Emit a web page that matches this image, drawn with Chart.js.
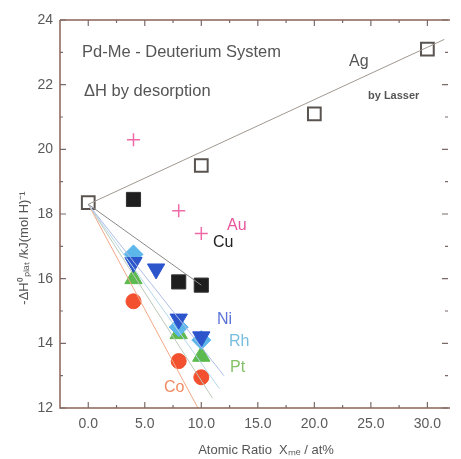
<!DOCTYPE html>
<html>
<head>
<meta charset="utf-8">
<script src="https://cdn.jsdelivr.net/npm/chart.js@4"></script>
<style>
  html, body { margin: 0; padding: 0; background: #fff; }
  #wrap { width: 461px; height: 459px; }
</style>
</head>
<body>
<div id="wrap"><canvas id="myChart" width="461" height="459"></canvas></div>
<script>
// data
const agX = [0, 10, 20, 30];
const agY = [18.35, 19.5, 21.1, 23.1];
const auX = [4, 8, 10];
const auY = [20.3, 18.1, 17.4];
const cuX = [4, 8, 10];
const cuY = [18.45, 15.9, 15.8];
const niX = [4, 6, 8, 10];
const niY = [16.5, 16.3, 14.75, 14.2];
const rhX = [4, 8, 10];
const rhY = [16.75, 14.5, 14.1];
const ptX = [4, 8, 10];
const ptY = [16.0, 14.3, 13.6];
const coX = [4, 8, 10];
const coY = [15.3, 13.45, 12.95];

// guide lines, start and end points
const agLineX = [0, 31.5];
const agLineY = [18.3, 23.4];
const cuLineX = [0, 10];
const cuLineY = [18.3, 15.8];
const niLineX = [0, 12];
const niLineY = [18.3, 13.0];
const rhLineX = [0, 11.6];
const rhLineY = [18.3, 12.6];
const ptLineX = [0, 11];
const ptLineY = [18.3, 12.3];
const coLineX = [0, 9.7];
const coLineY = [18.3, 12.0];

const xTicks = [0, 5, 10, 15, 20, 25, 30];
const yTicks = [12, 14, 16, 18, 20, 22, 24];

const pts = (xs, ys) => xs.map((x, i) => ({ x: x, y: ys[i] }));

const lineSet = (xs, ys, color) => ({
  data: pts(xs, ys),
  showLine: true,
  borderColor: color,
  borderWidth: 1,
  pointRadius: 0,
});

const labels = [
  { text: "Pd-Me - Deuterium System", x: 82, y: 52, color: "#555", font: "16.5px 'Liberation Sans', Arial" },
  { text: "\u0394H by desorption", x: 84, y: 91, color: "#555", font: "16.5px 'Liberation Sans', Arial" },
  { text: "Ag", x: 349, y: 62, color: "#555", font: "16px 'Liberation Sans', Arial" },
  { text: "by Lasser", x: 368, y: 96, color: "#555", font: "bold 11px 'Liberation Sans', Arial" },
  { text: "Au", x: 227, y: 226, color: "#e8559c", font: "16px 'Liberation Sans', Arial" },
  { text: "Cu", x: 213, y: 243, color: "#222", font: "16px 'Liberation Sans', Arial" },
  { text: "Ni", x: 217, y: 320, color: "#5b73d6", font: "16px 'Liberation Sans', Arial" },
  { text: "Rh", x: 229, y: 342, color: "#78bde0", font: "16px 'Liberation Sans', Arial" },
  { text: "Pt", x: 230, y: 368, color: "#84c26a", font: "16px 'Liberation Sans', Arial" },
  { text: "Co", x: 164, y: 388, color: "#f08a60", font: "16px 'Liberation Sans', Arial" },
];

const framePlugin = {
  id: "frame",
  afterDraw(chart) {
    const ctx = chart.ctx;
    const a = chart.chartArea;
    const xs = chart.scales.x;
    const ys = chart.scales.y;
    ctx.save();
    ctx.strokeStyle = "#8b6358";
    ctx.lineWidth = 1.5;
    ctx.beginPath();
    ctx.moveTo(a.left, a.top);
    ctx.lineTo(a.right, a.top);
    ctx.moveTo(a.left, a.top);
    ctx.lineTo(a.left, a.bottom);
    ctx.lineTo(a.right, a.bottom);
    ctx.stroke();

    ctx.lineWidth = 1.2;
    ctx.strokeStyle = "#7a6a66";
    ctx.beginPath();
    for (let v = 0; v <= 32; v += 2.5) {
      const px = xs.getPixelForValue(v);
      const len = v % 5 === 0 ? 6 : 3;
      ctx.moveTo(px, a.bottom);
      ctx.lineTo(px, a.bottom - len);
      ctx.moveTo(px, a.top);
      ctx.lineTo(px, a.top + len);
    }
    for (let v = 12; v <= 24; v += 1) {
      const py = ys.getPixelForValue(v);
      const len = v % 2 === 0 ? 6 : 3;
      ctx.moveTo(a.left, py);
      ctx.lineTo(a.left + len, py);
      ctx.moveTo(a.right - 2, py);
      ctx.lineTo(a.right - 2 - len, py);
    }
    ctx.stroke();

    // texts
    ctx.textBaseline = "middle";
    ctx.textAlign = "left";
    labels.forEach((l) => {
      ctx.font = l.font;
      ctx.fillStyle = l.color;
      ctx.fillText(l.text, l.x, l.y);
    });

    ctx.fillStyle = "#555";
    ctx.font = "13px 'Liberation Sans', Arial";
    ctx.textAlign = "center";
    ctx.fillText("Atomic Ratio  X\u2098\u2091 / at%", 266, 450);

    ctx.font = "13px 'Liberation Sans', Arial";
    ctx.translate(24, 248);
    ctx.rotate(-Math.PI / 2);
    ctx.fillText("-\u0394H\u2070\u209A\u2097\u2090\u209C /kJ(mol H)\u207B\u00B9", 0, 0);
    ctx.restore();
  },
};

const canvas = document.getElementById("myChart");

const chart = new Chart(canvas, {
  type: "scatter",
  data: {
    datasets: [
      lineSet(agLineX, agLineY, "#a09890"),
      lineSet(cuLineX, cuLineY, "#8a8a8a"),
      lineSet(niLineX, niLineY, "#aebde6"),
      lineSet(rhLineX, rhLineY, "#b4d8ea"),
      lineSet(ptLineX, ptLineY, "#bcc8b8"),
      lineSet(coLineX, coLineY, "#f2a888"),
      {
        data: pts(auX, auY),
        pointStyle: "cross",
        pointRadius: 6.5,
        borderColor: "#f06aa8",
        borderWidth: 1.5,
      },
      {
        data: pts(cuX, cuY),
        pointStyle: "rect",
        pointRadius: 10,
        backgroundColor: "#1e1e1e",
        borderColor: "#333",
        borderWidth: 1,
      },
      {
        data: pts(niX, niY),
        pointStyle: "triangle",
        rotation: 180,
        pointRadius: 10,
        backgroundColor: "#2c55cc",
        borderColor: "#2c55cc",
        borderWidth: 1,
      },
      {
        data: pts(rhX, rhY),
        pointStyle: "rectRot",
        pointRadius: 9.5,
        backgroundColor: "#5cb6ea",
        borderColor: "#5cb6ea",
        borderWidth: 1,
      },
      {
        data: pts(ptX, ptY),
        pointStyle: "triangle",
        pointRadius: 10,
        backgroundColor: "#5cba4e",
        borderColor: "#5cba4e",
        borderWidth: 1,
      },
      {
        data: pts(coX, coY),
        pointStyle: "circle",
        pointRadius: 7.5,
        backgroundColor: "#f2502e",
        borderColor: "#f2502e",
        borderWidth: 1,
      },
      {
        data: pts(agX, agY),
        pointStyle: "rect",
        pointRadius: 9,
        backgroundColor: "#fff",
        borderColor: "#5a5450",
        borderWidth: 2,
      },
    ],
  },
  options: {
    responsive: false,
    animation: false,
    layout: { padding: { top: 20, right: 0, left: 0, bottom: 0 } },
    scales: {
      x: {
        type: "linear",
        min: -2.5,
        max: 32,
        border: { display: false },
        grid: { display: false, drawTicks: false },
        afterBuildTicks: (s) => { s.ticks = xTicks.map((v) => ({ value: v })); },
        afterFit: (s) => { s.height = 51; },
        ticks: {
          padding: 8,
          color: "#5a5a5a",
          font: { family: "'Liberation Sans', Arial", size: 14 },
          callback: (v) => Number(v).toFixed(1),
        },
      },
      y: {
        min: 12,
        max: 24,
        border: { display: false },
        grid: { display: false, drawTicks: false },
        afterBuildTicks: (s) => { s.ticks = yTicks.map((v) => ({ value: v })); },
        afterFit: (s) => { s.width = 60; },
        ticks: {
          padding: 7,
          color: "#5a5a5a",
          font: { family: "'Liberation Sans', Arial", size: 14 },
        },
      },
    },
    plugins: {
      legend: { display: false },
      tooltip: { enabled: false },
    },
  },
  plugins: [framePlugin],
});
</script>
</body>
</html>
